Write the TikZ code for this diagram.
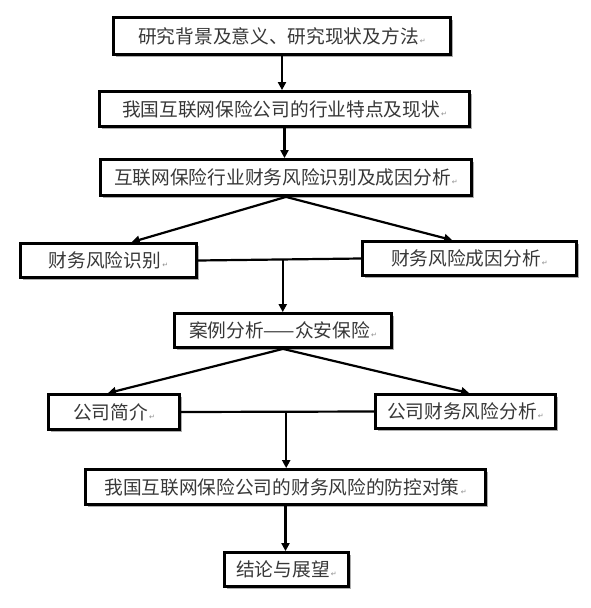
\documentclass[tikz,border=0pt]{standalone}
\usepackage{fontspec}
\newfontfamily\cjk{Noto Sans CJK SC}
\newfontfamily\markfont{DejaVu Sans}
\usetikzlibrary{arrows.meta,shadows,calc}
\newcommand{\pmark}{{\markfont\fontsize{7}{7}\selectfont\color{black!45}\,↵}}
\begin{document}
\begin{tikzpicture}[x=1pt,y=-1pt,
  box/.style={draw=black,line width=2.8pt,fill=white,inner sep=0pt,
    font=\cjk\fontsize{18.7}{20}\selectfont,text=black!78,
    drop shadow={shadow xshift=2.5pt,shadow yshift=-2.5pt,fill=black!40,opacity=0.8}},
  conn/.style={line width=2.2pt,draw=black},
  arr/.style={conn,-{Triangle[length=8pt,width=8pt]}}]
\useasboundingbox (0,0) rectangle (591,608);
\fill[white] (0,0) rectangle (591,608);
\node[box,minimum width=337pt,minimum height=37pt] (b1) at (282,36) {研究背景及意义、研究现状及方法\pmark};
\node[box,minimum width=370pt,minimum height=35pt] (b2) at (284.5,109) {我国互联网保险公司的行业特点及现状\pmark};
\node[box,minimum width=371pt,minimum height=36pt] (b3) at (286,177.5) {互联网保险行业财务风险识别及成因分析\pmark};
\node[box,minimum width=176pt,minimum height=34pt] (b4) at (108.5,260.5) {财务风险识别\pmark};
\node[box,minimum width=214pt,minimum height=34pt] (b5) at (469.5,258.5) {财务风险成因分析\pmark};
\node[box,minimum width=217pt,minimum height=34pt] (b6) at (283,330.5) {案例分析——众安保险\pmark};
\node[box,minimum width=131pt,minimum height=35pt] (b7) at (114,412) {公司简介\pmark};
\node[box,minimum width=180pt,minimum height=34pt] (b8) at (465.5,411.5) {公司财务风险分析\pmark};
\node[box,minimum width=400pt,minimum height=35pt] (b9) at (285.5,487) {我国互联网保险公司的财务风险的防控对策\pmark};
\node[box,minimum width=124pt,minimum height=34pt] (b10) at (286.5,569.5) {结论与展望\pmark};
% connectors
\draw[arr] (b1.south) -- (b1.south |- b2.north);
\draw[arr] (b2.south) -- (b2.south |- b3.north);
\coordinate (t4) at ($(b4.north west)!0.63!(b4.north east)$);
\coordinate (t5) at ($(b5.north west)!0.42!(b5.north east)$);
\draw[arr] (b3.south) -- (t4);
\draw[arr] (b3.south) -- (t5);
\draw[conn] (b4.east) -- (b5.west);
\coordinate (m1) at ($(b4.east)!0.52!(b5.west)$);
\draw[arr] (m1) -- (m1 |- b6.north);
\coordinate (t7) at ($(b7.north west)!0.455!(b7.north east)$);
\coordinate (t8) at ($(b8.north west)!0.52!(b8.north east)$);
\draw[arr] (b6.south) -- (t7);
\draw[arr] (b6.south) -- (t8);
\draw[conn] (b7.east) -- (b8.west);
\coordinate (m2) at ($(b7.east)!0.545!(b8.west)$);
\draw[arr] (m2) -- (m2 |- b9.north);
\draw[arr] (b9.south) -- (b9.south |- b10.north);
\end{tikzpicture}
\end{document}
